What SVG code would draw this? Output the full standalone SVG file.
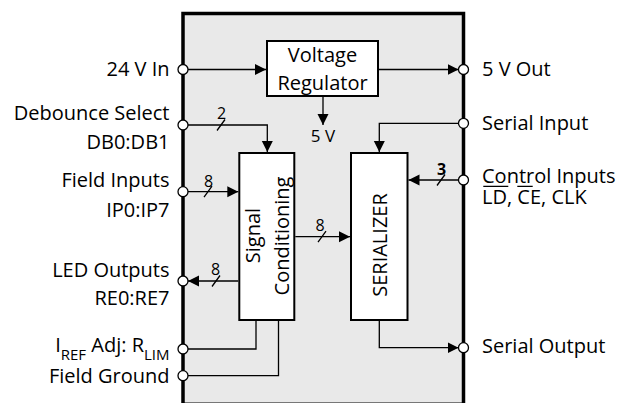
<svg xmlns="http://www.w3.org/2000/svg" width="620" height="403" viewBox="0 0 620 403">
<defs>
<style>
text{font-family:"Open Sans","Noto Sans","DejaVu Sans",sans-serif;fill:#000}
.lbl{font-size:20px}
.l{text-anchor:end}
.m{text-anchor:middle}
.bus{font-size:16px;text-anchor:middle}
.box{fill:#fff;stroke:#000;stroke-width:2}
.w{fill:none;stroke:#000;stroke-width:1.3}
.pin{fill:#fff;stroke:#000;stroke-width:1.3}
</style>
<marker id="ah" markerUnits="userSpaceOnUse" markerWidth="12" markerHeight="12" refX="11" refY="5.5" orient="auto">
<path d="M0,0 L11,5.5 L0,11 z" fill="#000"/>
</marker>
</defs>
<g id="package">
<rect x="183" y="13.5" width="280.5" height="390" fill="#e9e9e9"/>
<line x1="183" y1="402.5" x2="463.5" y2="402.5" stroke="#777" stroke-width="1"/>
<path d="M183,403 V13.5 H463.5 V403" fill="none" stroke="#000" stroke-width="3.5"/>
</g>
<g id="connectors">
<path class="w" d="M188,69.5 H266" marker-end="url(#ah)"/>
<path class="w" d="M379,69.5 H458.5" marker-end="url(#ah)"/>
<path class="w" d="M323,97 V125" marker-end="url(#ah)"/>
<path class="w" d="M188,125 H267.3 V152" marker-end="url(#ah)"/>
<path class="w" d="M188,191.7 H238.3" marker-end="url(#ah)"/>
<path class="w" d="M238.3,281 H188" marker-end="url(#ah)"/>
<path class="w" d="M188,349 H256 V321"/>
<path class="w" d="M188,375.7 H278.5 V321"/>
<path class="w" d="M458.5,123.3 H379.3 V152" marker-end="url(#ah)"/>
<path class="w" d="M458.5,180 H408.5" marker-end="url(#ah)"/>
<path class="w" d="M295.3,236.7 H350" marker-end="url(#ah)"/>
<path class="w" d="M379.3,321 V347.7 H458.5" marker-end="url(#ah)"/>
<path class="w" d="M217,130.5 L225,119.5 M204,197.2 L212,186.2 M212,286.5 L220,275.5 M318,242.2 L326,231.2 M437,185.5 L445,174.5"/>
<text class="bus" x="221.5" y="119">2</text>
<text class="bus" x="208.5" y="186.5">8</text>
<text class="bus" x="215.7" y="275">8</text>
<text class="bus" x="320" y="230.5">8</text>
<text class="bus" x="441.7" y="175" font-weight="bold">3</text>
<text class="bus" x="323" y="141.5" style="font-size:17px">5 V</text>
</g>
<g id="regulator">
<rect class="box" x="267" y="41" width="111" height="55"/>
<text class="lbl m" x="322.5" y="61.5">Voltage</text>
<text class="lbl m" x="322.5" y="90">Regulator</text>
</g>
<g id="signal-conditioning">
<rect class="box" x="239.3" y="153" width="55" height="167"/>
<text class="lbl m" transform="translate(259.5,235.5) rotate(-90)">Signal</text>
<text class="lbl m" transform="translate(289,236) rotate(-90)">Conditioning</text>
</g>
<g id="serializer">
<rect class="box" x="351" y="153" width="56.5" height="167"/>
<text class="lbl m" transform="translate(386.5,245) rotate(-90)">SERIALIZER</text>
</g>
<g id="pin-24v-in"><circle class="pin" cx="183" cy="69.5" r="5"/><text class="lbl l" x="169.5" y="76">24 V In</text></g>
<g id="pin-debounce"><circle class="pin" cx="183" cy="125" r="5"/><text class="lbl l" x="169.5" y="120">Debounce Select</text><text class="lbl l" x="169.5" y="149">DB0:DB1</text></g>
<g id="pin-field-inputs"><circle class="pin" cx="183" cy="191.7" r="5"/><text class="lbl l" x="169.5" y="187">Field Inputs</text><text class="lbl l" x="169.5" y="217">IP0:IP7</text></g>
<g id="pin-led-outputs"><circle class="pin" cx="183" cy="281" r="5"/><text class="lbl l" x="169.5" y="277">LED Outputs</text><text class="lbl l" x="169.5" y="305">RE0:RE7</text></g>
<g id="pin-iref"><circle class="pin" cx="183" cy="349" r="5"/><text class="lbl l" x="169.5" y="352">I<tspan dy="7.5" font-size="15">REF</tspan><tspan dy="-7.5"> Adj: R</tspan><tspan dy="7.5" font-size="15">LIM</tspan></text></g>
<g id="pin-field-ground"><circle class="pin" cx="183" cy="375.7" r="5"/><text class="lbl l" x="169.5" y="383">Field Ground</text></g>
<g id="pin-5v-out"><circle class="pin" cx="463.5" cy="69.5" r="5"/><text class="lbl" x="482" y="76">5 V Out</text></g>
<g id="pin-serial-input"><circle class="pin" cx="463.5" cy="123.3" r="5"/><text class="lbl" x="482" y="129.5">Serial Input</text></g>
<g id="pin-control-inputs"><circle class="pin" cx="463.5" cy="180" r="5"/><text class="lbl"><tspan x="482" y="183">Control Inputs</tspan><tspan x="482" y="204">LD, CE, CLK</tspan></text><path d="M483.3,186.3 H508.3 M517.3,186.3 H532.7" stroke="#000" stroke-width="1.2"/></g>
<g id="pin-serial-output"><circle class="pin" cx="463.5" cy="347.7" r="5"/><text class="lbl" x="482" y="353">Serial Output</text></g>
</svg>
